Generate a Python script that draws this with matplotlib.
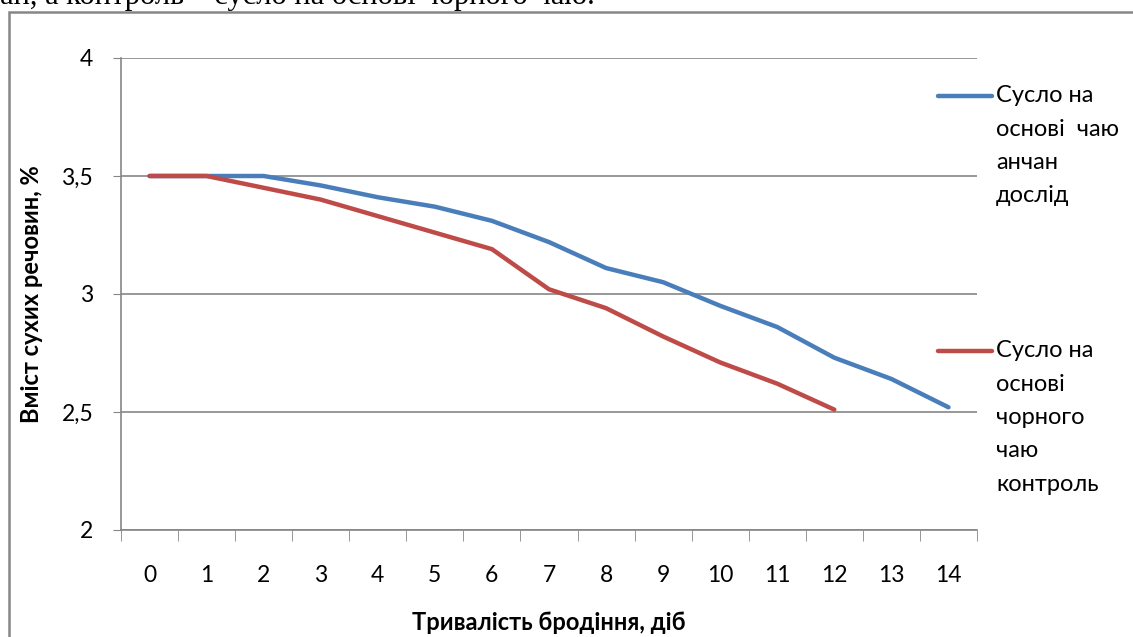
import matplotlib
matplotlib.use("Agg")
import matplotlib.pyplot as plt
from matplotlib.patches import Rectangle
from matplotlib.lines import Line2D
import numpy as np

# Data
days = list(range(15))
x_labels = [str(d) for d in days]
anchan = [3.50, 3.50, 3.50, 3.46, 3.41, 3.37, 3.31, 3.22, 3.11, 3.05, 2.95, 2.86, 2.73, 2.64, 2.52]
black = [3.50, 3.50, 3.45, 3.40, 3.33, 3.26, 3.19, 3.02, 2.94, 2.82, 2.71, 2.62, 2.51]
y_ticks = [2, 2.5, 3, 3.5, 4]
y_labels = ["2", "2,5", "3", "3,5", "4"]
legend_anchan = ["Сусло на", "основі  чаю", "анчан", "дослід"]
legend_black = ["Сусло на", "основі", "чорного", "чаю", "контроль"]

blue = "#4A7EBB"
red = "#BE4B48"
grid_c = "#868686"
font = ["Lato", "DejaVu Sans"]

W, H = 1133, 637
fig = plt.figure(figsize=(W / 100, H / 100), dpi=100)

# cut-off line of document text above the chart frame
fig.text(0.0, 1 - 4 / H, "ан, а контроль – сусло на основі чорного чаю.",
         family="Liberation Serif", fontsize=22, va="baseline", ha="left")

# chart frame
fig.add_artist(Rectangle((9 / W, -0.05), 1.1, 1.05 - 12 / H, transform=fig.transFigure,
                         fill=False, edgecolor=grid_c, lw=1.8))

ax = fig.add_axes([121 / W, 1 - 530 / H, (977 - 121) / W, (530 - 58) / H])
ax.plot(days, anchan, color=blue, lw=3.2, solid_capstyle="round")
ax.plot(days[:len(black)], black, color=red, lw=3.2, solid_capstyle="round")

ax.set_xlim(-0.5, 14.5)
ax.set_ylim(2, 4)
ax.set_yticks(y_ticks)
ax.set_yticklabels(y_labels, family=font, fontsize=16.5)
ax.set_xticks(days)
ax.set_xticklabels(x_labels, family=font, fontsize=16.5)
ax.set_xticks(np.arange(-0.5, 15, 1), minor=True)
ax.tick_params(axis="x", which="major", length=0, pad=25)
ax.tick_params(axis="x", which="minor", length=8, color=grid_c, direction="out")
ax.tick_params(axis="y", length=6, color=grid_c, pad=14)

ax.grid(axis="y", color=grid_c, lw=1.2)
ax.set_axisbelow(True)
for s in ["top", "right"]:
    ax.spines[s].set_visible(False)
for s in ["left", "bottom"]:
    ax.spines[s].set_color(grid_c)
    ax.spines[s].set_linewidth(1.2)

ax.set_xlabel("Тривалість бродіння, діб", family=font, fontsize=17, fontweight="bold", va="center")
ax.set_ylabel("Вміст сухих речовин, %", family=font, fontsize=17, fontweight="bold", va="center")
ax.xaxis.set_label_coords((549 - 121) / 856, (530 - 622) / 472)
ax.yaxis.set_label_coords((32 - 121) / 856, (530 - 294) / 472)

# legend drawn by hand so the line sits by the first text line
for color, lines, y0 in [(blue, legend_anchan, 96), (red, legend_black, 351)]:
    fig.add_artist(Line2D([938 / W, 992 / W], [1 - y0 / H] * 2, transform=fig.transFigure,
                          color=color, lw=3.2, solid_capstyle="round"))
    for i, t in enumerate(lines):
        fig.text(996 / W, 1 - (y0 + i * 33.3) / H, t, family=font, fontsize=17,
                 va="center", ha="left")

fig.savefig("out.png", dpi=100)
